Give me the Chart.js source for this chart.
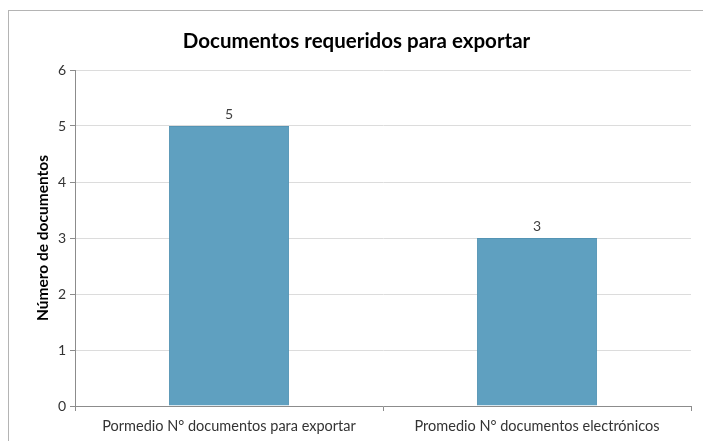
<!DOCTYPE html>
<html>
<head>
<meta charset="utf-8">
<script src="https://cdn.jsdelivr.net/npm/chart.js@4/dist/chart.umd.min.js"></script>
<style>
  html, body { margin: 0; padding: 0; background: #fff; overflow: hidden; }
  #wrap { position: relative; width: 703px; height: 441px; }
  #frame { position: absolute; left: 8px; top: 10px; width: 720px; height: 460px;
           border: 1px solid #b4b4b4; box-sizing: border-box; pointer-events: none; }
  canvas { position: absolute; left: 0; top: 0; }
</style>
</head>
<body>
<div id="wrap">
  <canvas id="c" width="703" height="441"></canvas>
  <div id="frame"></div>
</div>
<script>
// Categories and values of the chart
const categories = ['Pormedio N° documentos para exportar', 'Promedio N° documentos electrónicos'];
const documentCounts = [5, 3];
const yTicks = [0, 1, 2, 3, 4, 5, 6];

const FONT = 'Lato, "Open Sans", sans-serif';

// Value labels drawn above each bar
const valueLabels = {
  id: 'valueLabels',
  afterDatasetsDraw(chart) {
    const ctx = chart.ctx;
    const meta = chart.getDatasetMeta(0);
    ctx.save();
    ctx.font = '14px ' + FONT;
    ctx.fillStyle = '#404040';
    ctx.textAlign = 'center';
    ctx.textBaseline = 'bottom';
    meta.data.forEach((bar, i) => {
      ctx.fillText(String(chart.data.datasets[0].data[i]), bar.x, bar.y - 5);
    });
    ctx.restore();
  }
};

new Chart(document.getElementById('c'), {
  type: 'bar',
  data: {
    labels: categories,
    datasets: [{
      data: documentCounts,
      backgroundColor: '#5fa0c0',
      borderColor: '#5494b4',
      borderWidth: 1,
      categoryPercentage: 1,
      barPercentage: 0.39
    }]
  },
  options: {
    responsive: false,
    animation: false,
    devicePixelRatio: 1,
    layout: { padding: { left: 22, right: 12, top: 0, bottom: 0 } },
    plugins: {
      legend: { display: false },
      tooltip: { enabled: false },
      title: {
        display: true,
        text: 'Documentos requeridos para exportar',
        color: '#000',
        font: { family: FONT, size: 20.5, weight: 'bold', lineHeight: 1.2 },
        padding: { top: 29, bottom: 16.4 }
      }
    },
    scales: {
      x: {
        grid: { display: true, drawOnChartArea: false, drawTicks: true, tickLength: 5, color: '#8c8c8c', offset: true },
        border: { display: true, color: '#8c8c8c', width: 1 },
        ticks: { color: '#333', font: { family: FONT, size: 14.5 }, padding: 7, maxRotation: 0, autoSkip: false },
        afterFit(scale) { scale.height = 35; }
      },
      y: {
        min: 0,
        max: 6,
        afterBuildTicks(scale) { scale.ticks = yTicks.map(v => ({ value: v })); },
        grid: { color: '#dcdcdc', tickColor: '#8c8c8c', tickLength: 5, drawTicks: true },
        border: { display: true, color: '#8c8c8c', width: 1 },
        ticks: { color: '#333', font: { family: FONT, size: 14 }, padding: 4 },
        title: {
          display: true,
          text: 'Número de documentos',
          color: '#000',
          font: { family: FONT, size: 15.5, weight: 'bold', lineHeight: 1.2 },
          padding: { top: 12, bottom: 0 }
        },
        afterFit(scale) { scale.width = 53; }
      }
    }
  },
  plugins: [valueLabels]
});
</script>
</body>
</html>
